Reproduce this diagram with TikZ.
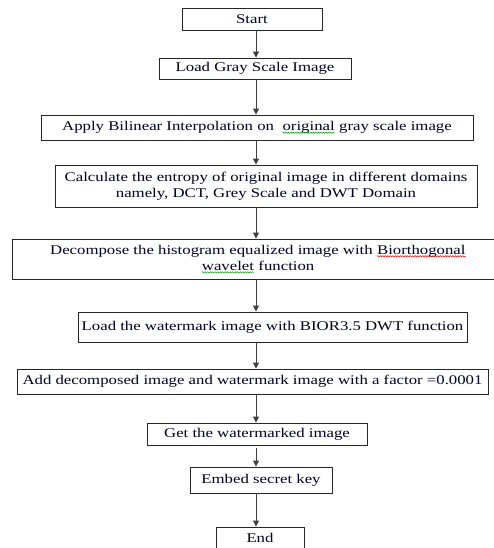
\documentclass[tikz,border=0pt]{standalone}
\usepackage{fontspec}
\setmainfont{Liberation Serif}[FakeStretch=1.26]
\usetikzlibrary{arrows.meta,decorations.pathmorphing}
\newcommand\squig[2]{\tikz[baseline=(w.base)]{\node[inner sep=0pt,outer sep=0pt,minimum width=0pt,minimum height=0pt,draw=none](w){#2};\draw[#1,line width=0.5pt,decorate,decoration={snake,amplitude=0.6pt,segment length=2.5pt}] ([yshift=-2.2pt]w.base west) -- ([yshift=-2.2pt]w.base east);}}
\begin{document}
\begin{tikzpicture}[x=1pt,y=1pt,
  box/.style={draw=black!85,line width=0.9pt,rectangle,inner sep=0pt,align=center,
    font=\fontsize{13.3}{16}\selectfont,text=black!85!blue},
  arr/.style={draw=black!75,line width=1pt,-{Triangle[length=6pt,width=6pt]}}]
\useasboundingbox (0,0) rectangle (493,-548);
\fill[white] (0,0) rectangle (493,-548);
\coordinate (ax) at (256,0);
\node[box,minimum width=140,minimum height=22] (start) at (252,-19) {Start};
\node[box,minimum width=192,minimum height=21] (load) at (255,-68.5) {Load Gray Scale Image};
\node[box,minimum width=432,minimum height=25] (apply) at (257,-127.5) {Apply Bilinear Interpolation on \ \squig{green!60!black}{original} gray scale image};
\node[box,minimum width=422,minimum height=42] (calc) at (266,-186) {Calculate the entropy of original image in different domains\\namely, DCT, Grey Scale and DWT Domain};
\node[box,minimum width=492,minimum height=40] (decomp) at (258,-259) {Decompose the histogram equalized image with \squig{red}{Biorthogonal}\\\squig{green!60!black}{wavelet} function};
\node[box,minimum width=389,minimum height=30] (wm) at (272.5,-327) {Load the watermark image with BIOR3.5 DWT function};
\node[box,minimum width=471,minimum height=25] (add) at (252.5,-381.5) {Add decomposed image and watermark image with a factor =0.0001};
\node[box,minimum width=220,minimum height=22] (get) at (257,-434) {Get the watermarked image};
\node[box,minimum width=142,minimum height=26] (embed) at (261,-480) {Embed secret key};
\node[box,minimum width=88,minimum height=22] (end) at (260,-538) {End};
\draw[arr] (start.south -| ax) -- (load.north -| ax);
\draw[arr] (load.south -| ax) -- (apply.north -| ax);
\draw[arr] (apply.south -| ax) -- (calc.north -| ax);
\draw[arr] (calc.south -| ax) -- (decomp.north -| ax);
\draw[arr] (decomp.south -| ax) -- (wm.north -| ax);
\draw[arr] (wm.south -| ax) -- (add.north -| ax);
\draw[arr] (add.south -| ax) -- (get.north -| ax);
\draw[arr] ([yshift=-3pt]get.south -| ax) -- (embed.north -| ax);
\draw[arr] (embed.south -| ax) -- (end.north -| ax);
\end{tikzpicture}
\end{document}
